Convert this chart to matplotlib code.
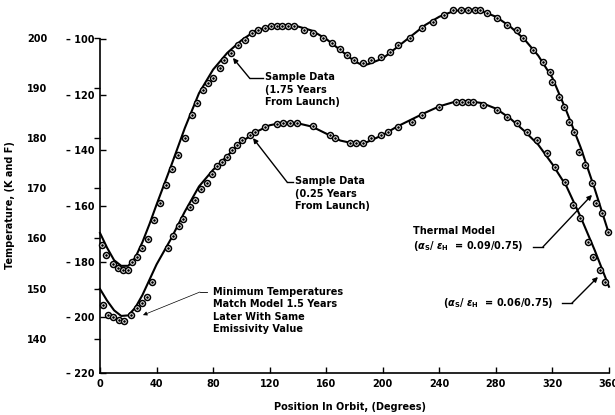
import matplotlib
matplotlib.use('Agg')
import matplotlib.pyplot as plt

plt.rcParams['font.family'] = 'DejaVu Sans'
plt.rcParams['font.weight'] = 'bold'

# orbit position (deg) and temperature (F) of the sample data
late_pos = [1.4, 4.2, 9.2, 12.7, 16.3, 19.8, 22.6, 26, 30, 34, 38, 42.4, 46.7, 51,
            55, 60, 65, 68.6, 72.8, 76.4, 80, 85, 88, 93, 97.6, 102.5, 107.5, 112,
            117, 121, 125, 129, 133, 137, 144, 151, 158, 164, 170, 175, 180, 186,
            192, 199, 205, 211, 219, 228, 235.5, 243, 250, 255, 260, 265, 269, 274,
            281, 288, 295, 299, 306, 313, 318, 320, 325, 328, 332, 335, 339, 343,
            348, 351, 355, 359]
late_temp = [-174, -177.6, -180.9, -182.3, -183, -183, -180, -178.3, -175, -172, -165,
             -159, -152.5, -146.7, -141.7, -135.6, -127.3, -123, -118.3, -115.8, -114,
             -110.4, -107.5, -105, -102.2, -100.4, -97.8, -96.8, -96, -95.3, -95.3,
             -95.3, -95.3, -95.3, -96.8, -97.8, -99.6, -101.4, -103.6, -105.7, -107.5,
             -108.6, -107.5, -106.5, -104.7, -102.2, -99.6, -96, -93.9, -91.4, -89.6,
             -89.6, -89.6, -89.6, -89.6, -90.7, -92.5, -95, -96.8, -99.6, -103.9,
             -108.3, -111.9, -115.5, -120.8, -124.4, -129.8, -133.4, -140.6, -145.3,
             -151.7, -158.9, -162.5, -169.3]

early_pos = [2.1, 5.7, 9.2, 13.4, 17, 22, 26.2, 29.7, 33.2, 36.8, 48, 51.6, 56, 58.7,
             63.6, 67, 71.4, 75.7, 79, 82.7, 86.3, 89.8, 93.4, 96.9, 100.4, 106.1,
             109.6, 116.7, 125.2, 129.4, 134.4, 139.3, 151, 163, 166, 177, 181, 186,
             192, 199, 204, 211, 221, 228, 240, 252, 256, 260, 264, 271, 281, 288, 295,
             302, 309, 316, 322, 329, 334.5, 339.5, 345, 349, 354, 357]
early_temp = [-195.6, -199.2, -199.9, -201, -201.3, -199.2, -196.7, -194.9, -192.7,
              -187.3, -175.1, -170.8, -167.2, -164.7, -160.4, -157.8, -153.9, -151.7,
              -148.5, -145.8, -144.2, -142.4, -139.9, -138.1, -136.3, -134.5, -133.4,
              -131.6, -130.5, -130.2, -130.2, -130.2, -131.3, -134.5, -135.6, -137.4,
              -137.4, -137.4, -135.6, -134.5, -133.4, -131.6, -129.8, -127.3, -124.4,
              -122.6, -122.6, -122.6, -122.6, -123.7, -125.5, -128, -130.2, -133.4,
              -136.3, -141, -146, -151.4, -159.6, -164.3, -173, -178.3, -183, -187.3]

# thermal model curves
model_pos = [0, 5, 10, 15, 20, 25, 30, 35, 40, 50, 60, 70, 80, 90, 100, 110, 120, 130,
             140, 150, 160, 170, 180, 186, 190, 200, 210, 220, 230, 240, 250, 260, 270,
             280, 290, 300, 310, 320, 330, 340, 350, 360]
model_009 = [-169.7, -175, -179.5, -181.5, -181.5, -178.5, -173, -166.5, -159.5, -146,
             -132, -119.5, -111, -105, -100.5, -97, -95.5, -95, -95.5, -97, -100, -104,
             -108, -109.5, -109, -107, -103, -99, -95, -92, -90, -89.3, -90, -92, -95.5,
             -100, -106, -114, -126, -139, -154, -170]
model_006 = [-189.8, -194, -197.5, -199.5, -199.3, -196.5, -192, -186.5, -181, -172,
             -162, -153, -147, -142, -137, -133.5, -131, -130, -130.3, -131.5, -134,
             -136.5, -137.6, -137.6, -136.8, -134.5, -131.5, -129, -126.5, -124.2, -122.7,
             -122.3, -123, -125, -128.5, -133, -138, -145, -153, -164, -176, -189]

x_ticks = list(range(0, 361, 40))
f_ticks = [-220, -200, -180, -160, -140, -120, -100]
k_ticks = [140, 150, 160, 170, 180, 190, 200]


def f_to_k(f):
    return (f - 32) * 5 / 9 + 273.15


def k_to_f(k):
    return (k - 273.15) * 9 / 5 + 32


fig = plt.figure(figsize=(6.15, 4.15), dpi=100)
ax = fig.add_axes([0.1626, 0.1012, 0.8276, 0.8988])
ax.set_xlim(0, 360)
ax.set_ylim(-220, -86)

# model lines
ax.plot(model_pos, model_009, color='black', linewidth=1.5, clip_on=False, zorder=2)
ax.plot(model_pos, model_006, color='black', linewidth=1.5, clip_on=False, zorder=2)

# sample data, open circles with a dot in the middle
for pos, temp in [(late_pos, late_temp), (early_pos, early_temp)]:
    ax.plot(pos, temp, linestyle='none', marker='o', markersize=4.3,
            markerfacecolor='white', markeredgecolor='black', markeredgewidth=1.1,
            clip_on=False, zorder=3)
    ax.plot(pos, temp, linestyle='none', marker='o', markersize=0.9,
            color='black', clip_on=False, zorder=4)

# axes styling
for s in ['top', 'right']:
    ax.spines[s].set_visible(False)
ax.spines['left'].set_bounds(-220, -100)
ax.spines['left'].set_linewidth(1.2)
ax.spines['bottom'].set_linewidth(1.2)
ax.set_xticks(x_ticks)
ax.set_yticks(f_ticks)
ax.set_yticklabels(['\u2013 ' + str(abs(v)) for v in f_ticks])
ax.tick_params(axis='both', direction='in', length=4, width=1.0, labelsize=7)
ax.tick_params(axis='y', pad=4)
ax.tick_params(axis='x', pad=4)

kax = ax.secondary_yaxis('left', functions=(f_to_k, k_to_f))
kax.set_yticks(k_ticks)
kax.tick_params(axis='y', direction='out', length=4, width=1.0, labelsize=7, pad=34)
kax.spines['left'].set_visible(False)

fig.text(0.016, 0.506, 'Temperature, (K and F)', rotation=90, fontsize=7,
         ha='center', va='center')
fig.text(0.569, 0.019, 'Position In Orbit, (Degrees)', fontsize=7,
         ha='center', va='center')

# annotations
txt = dict(fontsize=7, ha='left', linespacing=1.3)
arrow = dict(arrowstyle='-|>', color='black', linewidth=1.0, mutation_scale=7,
             shrinkA=0, shrinkB=0)
ratio = r'($\alpha_{\mathbf{S}}$/ $\epsilon_{\mathbf{H}}$  = {}/0.75)'

ax.text(116.7, -112, 'Sample Data\n(1.75 Years\nFrom Launch)', va='top', **txt)
ax.plot([115.3, 106], [-114.2, -114.2], color='black', linewidth=1.0)
ax.annotate('', xy=(94, -106.8), xytext=(106, -114.2), arrowprops=arrow)

ax.text(137.9, -149.4, 'Sample Data\n(0.25 Years\nFrom Launch)', va='top', **txt)
ax.plot([136.5, 132.3], [-151.4, -151.4], color='black', linewidth=1.0)
ax.annotate('', xy=(108.2, -135.6), xytext=(132.3, -151.4), arrowprops=arrow)

ax.text(79.9, -189.0, 'Minimum Temperatures\nMatch Model 1.5 Years\nLater With Same\nEmissivity Value',
        va='top', **txt)
ax.plot([75.7, 70.7], [-190.9, -190.9], color='black', linewidth=0.6)
ax.annotate('', xy=(30.4, -199.2), xytext=(70.7, -190.9),
            arrowprops=dict(arrowstyle='-|>', color='black', linewidth=0.5,
                            mutation_scale=6, shrinkA=0, shrinkB=0))

ax.text(221.4, -172.2, 'Thermal Model\n' + ratio.replace('{}', '0.09'),
        va='center', **txt)
ax.plot([306.3, 313.3], [-174.7, -174.7], color='black', linewidth=1.0)
ax.annotate('', xy=(348, -156), xytext=(313.3, -174.7), arrowprops=arrow)

ax.text(242.6, -194.9, ratio.replace('{}', '0.06'), va='center', **txt)
ax.plot([326.8, 333.8], [-194.9, -194.9], color='black', linewidth=1.0)
ax.annotate('', xy=(352.2, -185.5), xytext=(333.8, -194.9), arrowprops=arrow)

fig.savefig('out.png', dpi=100)
